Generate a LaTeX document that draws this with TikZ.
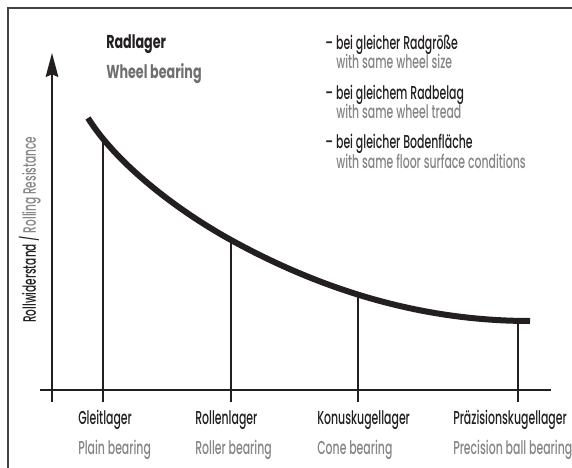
\documentclass[tikz,border=0pt]{standalone}
\usepackage{fontspec}
\setmainfont{Poppins}[UprightFont=* Medium, BoldFont=* Bold, FakeStretch=0.585]
\newfontfamily\titlefont{Poppins}[UprightFont=* Bold, FakeStretch=0.68]
\usetikzlibrary{arrows.meta}
\definecolor{inkblack}{HTML}{231F20}
\definecolor{inkgray}{HTML}{6F6F6F}
\definecolor{subgray}{HTML}{858585}

\begin{document}
\begin{tikzpicture}[
  x=0.75pt, y=-0.75pt, >={Stealth[length=18pt,width=9.5pt,inset=2pt]},
  frame/.style={draw=inkblack!85, line width=1.5pt},
  axis/.style={draw=inkblack, line width=1.1pt},
  rule/.style={draw=inkblack, line width=0.9pt},
  curve/.style={draw=inkblack, line width=4.5pt},
  head/.style={inner sep=0pt, anchor=base west, text=inkblack, font=\fontsize{14}{16}\selectfont},
  title/.style={head, font=\fontsize{14}{16}\selectfont\titlefont},
  sub/.style={head, text=subgray},
]
  \useasboundingbox (0,0) rectangle (572,468);
  \draw[frame] (8,468) |- (572,8);

  % axes
  \coordinate (ybot) at (52,402);
  \coordinate (ytop) at (52,53);
  \coordinate (xl) at (40,390);
  \coordinate (xr) at (551,390);
  \draw[axis,->] (ybot) -- (ytop);
  \draw[axis] (xl) -- (xr);

  % curve and bearing lines
  \coordinate (c0) at (88,118);
  \coordinate (c1) at (103,140);
  \coordinate (c2) at (231,240);
  \coordinate (c3) at (358,294);
  \coordinate (c4) at (518,321);
  \coordinate (c5) at (530,321);
  \coordinate (t1) at (103,402);
  \coordinate (t2) at (231,402);
  \coordinate (t3) at (358,402);
  \coordinate (t4) at (518,402);
  \foreach \i in {1,...,4} \draw[rule] (c\i) -- (t\i);
  \draw[curve] (c0) .. controls (118,166) and (181,212.5) .. (c2)
    .. controls (331,295) and (430,321) .. (c5);

  % legend
  \node[title] (radlager) at (106,48) {Radlager};
  \node[title, text=inkgray] (wheel) at (106,78) {Wheel bearing};
  \node[head] (cond1) at (325,49) {–\,bei gleicher Radgröße};
  \node[sub] (cond1en) at (336,68) {with same wheel size};
  \node[head] (cond2) at (325,99) {–\,bei gleichem Radbelag};
  \node[sub] (cond2en) at (336,118) {with same wheel tread};
  \node[head] (cond3) at (325,148) {–\,bei gleicher Bodenfläche};
  \node[sub] (cond3en) at (336,168) {with same floor surface conditions};

  % axis labels
  \node[head, rotate=90, font=\fontsize{13.5}{15}\selectfont] (ylab) at (36,323) {Rollwiderstand / \textcolor{subgray}{Rolling Resistance}};
  \node[head] (b1) at (78,424) {Gleitlager};
  \node[sub] (b1en) at (78,454) {Plain bearing};
  \node[head] (b2) at (195,424) {Rollenlager};
  \node[sub] (b2en) at (195,454) {Roller bearing};
  \node[head] (b3) at (317,424) {Konuskugellager};
  \node[sub] (b3en) at (317,454) {Cone bearing};
  \node[head] (b4) at (453,424) {Präzisionskugellager};
  \node[sub] (b4en) at (453,454) {Precision ball bearing};
\end{tikzpicture}
\end{document}
